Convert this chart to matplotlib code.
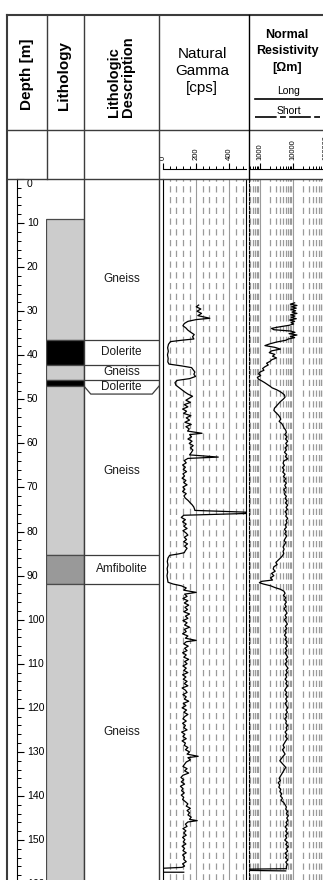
import matplotlib
matplotlib.use("Agg")
import matplotlib.pyplot as plt
import matplotlib.transforms as mtransforms
from matplotlib.ticker import MultipleLocator, LogLocator, NullFormatter, NullLocator

plt.rcParams["font.family"] = ["Liberation Sans", "DejaVu Sans"]

# ---- data -------------------------------------------------------------
depth_ticks = list(range(0, 170, 10))

lith_top = [9.1, 36.5, 42.2, 45.6, 47.0, 85.3, 91.9]
lith_bot = [36.5, 42.2, 45.6, 47.0, 85.3, 91.9, 165.0]
lith_color = ["#cccccc", "#000000", "#cccccc", "#000000", "#cccccc", "#999999", "#cccccc"]

desc_text = ["Gneiss", "Dolerite", "Gneiss", "Dolerite", "Gneiss", "Amfibolite", "Gneiss"]
desc_top = [9.1, 36.5, 42.2, 45.6, 47.0, 85.3, 91.9]
desc_bot = [36.5, 42.2, 45.6, 48.8, 85.3, 91.9, 159.1]
desc_lines = [36.5, 42.2, 45.6, 85.3, 91.9]

gr_depth = [
    28.6, 29.0, 29.5, 30.0, 30.5, 31.0, 31.6, 31.9, 32.3, 32.8,
    33.3, 33.8, 34.3, 34.8, 35.3, 35.8, 36.3, 36.6, 36.9, 37.5,
    38.3, 39.1, 39.9, 40.7, 41.5, 42.0, 42.4, 42.8, 43.3, 43.8,
    44.3, 44.8, 45.3, 45.7, 46.2, 46.8, 47.3, 47.8, 48.3, 48.8,
    49.3, 49.7, 50.2, 50.7, 51.2, 51.7, 52.2, 52.7, 53.2, 53.7,
    54.2, 54.7, 55.2, 55.7, 56.2, 56.7, 57.2, 57.7, 58.0, 58.5,
    59.0, 59.5, 60.0, 60.5, 61.0, 61.5, 62.0, 62.6, 63.1, 63.4,
    63.9, 64.4, 64.9, 65.4, 65.9, 66.4, 66.9, 67.4, 67.9, 68.4,
    68.9, 69.4, 69.9, 70.4, 70.9, 71.4, 71.9, 72.4, 72.9, 73.4,
    73.9, 74.4, 74.9, 75.2, 75.6, 75.9, 76.3, 76.8, 77.3, 77.8,
    78.3, 78.8, 79.3, 79.8, 80.3, 80.8, 81.3, 81.8, 82.3, 82.8,
    83.3, 83.8, 84.3, 84.8, 85.1, 85.4, 86.0, 86.8, 87.6, 88.4,
    89.2, 90.0, 90.8, 91.5, 91.9, 92.3, 92.8, 93.3, 93.8, 94.2,
    94.7, 95.2, 95.7, 96.2, 96.7, 97.2, 97.7, 98.2, 98.7, 99.2,
    99.7, 100.2, 100.7, 101.2, 101.7, 102.2, 102.7, 103.2, 103.7, 104.2,
    104.7, 105.0, 105.5, 106.0, 106.5, 107.0, 107.5, 108.0, 108.5, 109.0,
    109.5, 110.0, 110.5, 111.0, 111.5, 112.0, 112.5, 113.0, 113.5, 114.0,
    114.5, 115.0, 115.5, 116.0, 116.5, 117.0, 117.5, 118.0, 118.5, 119.0,
    119.5, 120.0, 120.5, 121.0, 121.5, 122.0, 122.5, 123.0, 123.5, 124.0,
    124.5, 125.0, 125.5, 126.0, 126.5, 127.0, 127.5, 128.0, 128.5, 129.0,
    129.5, 130.0, 130.5, 131.0, 131.3, 131.8, 132.3, 132.8, 133.3, 133.8,
    134.3, 134.8, 135.3, 135.8, 136.3, 136.8, 137.3, 137.8, 138.3, 138.8,
    139.3, 139.8, 140.3, 140.8, 141.3, 141.8, 142.3, 142.8, 143.3, 143.8,
    144.3, 144.8, 145.3, 145.6, 145.9, 146.4, 146.9, 147.4, 147.9, 148.4,
    148.9, 149.4, 149.9, 150.4, 150.9, 151.4, 151.9, 152.4, 152.9, 153.4,
    153.9, 154.4, 154.9, 155.4, 155.9, 156.2, 156.4, 157.3, 157.3,
]
gr_cps = [
    215, 200, 228, 205, 232, 210, 282, 200, 150, 128,
    120, 138, 150, 168, 188, 178, 186, 110, 45, 33,
    28, 32, 27, 31, 29, 36, 110, 172, 182, 192,
    186, 196, 160, 85, 72, 78, 95, 112, 130, 150,
    178, 160, 138, 165, 128, 150, 118, 142, 125, 168,
    140, 160, 132, 170, 138, 158, 148, 235, 160, 172,
    150, 175, 158, 182, 165, 180, 172, 160, 333, 150,
    128, 140, 118, 135, 122, 142, 120, 130, 115, 138,
    125, 145, 120, 132, 118, 140, 126, 134, 150, 162,
    175, 185, 190, 192, 500, 500, 125, 110, 135, 118,
    140, 125, 145, 120, 138, 150, 128, 142, 125, 148,
    130, 145, 135, 128, 90, 40, 30, 26, 30, 25,
    28, 24, 27, 30, 60, 110, 140, 125, 200, 130,
    145, 120, 150, 128, 155, 132, 148, 125, 160, 135,
    150, 120, 145, 130, 160, 128, 140, 118, 150, 135,
    200, 140, 125, 152, 130, 145, 118, 140, 125, 155,
    130, 145, 120, 140, 125, 150, 118, 138, 122, 145,
    128, 150, 115, 135, 145, 120, 140, 128, 155, 122,
    138, 115, 142, 125, 150, 130, 120, 140, 118, 135,
    125, 145, 112, 132, 120, 140, 115, 135, 128, 150,
    135, 160, 145, 212, 150, 165, 140, 130, 120, 145,
    130, 155, 120, 108, 125, 110, 130, 105, 120, 112,
    128, 110, 125, 118, 135, 150, 140, 165, 145, 160,
    150, 170, 160, 206, 150, 135, 145, 120, 138, 125,
    140, 118, 132, 122, 138, 115, 130, 120, 140, 118,
    130, 125, 140, 118, 130, 115, 0, 0, 125,
]

res_depth = [
    28.1, 28.4, 28.7, 29.0, 29.3, 29.6, 29.9, 30.2, 30.5, 30.8,
    31.1, 31.4, 31.7, 32.0, 32.3, 32.6, 32.9, 33.2, 33.6, 33.9,
    34.2, 34.5, 34.8, 35.1, 35.4, 35.7, 36.0, 36.3, 36.6, 37.0,
    37.4, 37.8, 38.2, 38.6, 39.0, 39.4, 39.8, 40.2, 40.6, 41.0,
    41.4, 41.8, 42.2, 42.6, 43.0, 43.4, 43.8, 44.2, 44.6, 45.0,
    45.4, 45.8, 46.2, 46.6, 47.0, 47.4, 47.8, 48.2, 48.6, 49.0,
    49.5, 50.0, 50.5, 51.0, 51.5, 52.0, 52.5, 53.0, 53.5, 54.0,
    54.5, 55.0, 55.5, 56.0, 56.5, 57.0, 57.5, 58.0, 58.5, 59.0,
    59.5, 60.0, 60.5, 61.0, 61.5, 62.0, 62.5, 63.0, 63.5, 64.0,
    64.5, 65.0, 65.5, 66.0, 66.5, 67.0, 67.5, 68.0, 68.5, 69.0,
    69.5, 70.0, 70.5, 71.0, 71.5, 72.0, 72.5, 73.0, 73.5, 74.0,
    74.5, 75.0, 75.5, 76.0, 76.5, 77.0, 77.5, 78.0, 78.5, 79.0,
    79.5, 80.0, 80.5, 81.0, 81.5, 82.0, 82.5, 83.0, 83.5, 84.0,
    84.5, 85.0, 85.5, 86.0, 86.5, 87.0, 87.5, 88.0, 88.5, 89.0,
    89.5, 90.0, 90.5, 91.0, 91.3, 91.6, 91.9, 92.3, 92.7, 93.1,
    93.5, 94.0, 94.5, 95.0, 95.5, 96.0, 96.5, 97.0, 97.5, 98.0,
    98.5, 99.0, 99.5, 100.0, 100.5, 101.0, 101.5, 102.0, 102.5, 103.0,
    103.5, 104.0, 104.5, 105.0, 105.5, 106.0, 106.5, 107.0, 107.5, 108.0,
    108.5, 109.0, 109.5, 110.0, 110.5, 111.0, 111.5, 112.0, 112.5, 113.0,
    113.5, 114.0, 114.5, 115.0, 115.5, 116.0, 116.5, 117.0, 117.5, 118.0,
    118.5, 119.0, 119.5, 120.0, 120.5, 121.0, 121.5, 122.0, 122.5, 123.0,
    123.5, 124.0, 124.5, 125.0, 125.5, 126.0, 126.5, 127.0, 127.5, 128.0,
    128.5, 129.0, 129.5, 130.0, 130.5, 131.0, 131.5, 132.0, 132.5, 133.0,
    133.5, 134.0, 134.5, 135.0, 135.5, 136.0, 136.5, 137.0, 137.5, 138.0,
    138.5, 139.0, 139.5, 140.0, 140.5, 141.0, 141.5, 142.0, 142.5, 143.0,
    143.5, 144.0, 144.5, 145.0, 145.5, 146.0, 146.5, 147.0, 147.5, 148.0,
    148.5, 149.0, 149.5, 150.0, 150.5, 151.0, 151.5, 152.0, 152.5, 153.0,
    153.5, 154.0, 154.5, 155.0, 155.5, 156.0, 156.5, 156.6, 156.9, 157.0,
]
res_log = [
    4.05, 3.92, 4.12, 3.96, 4.10, 3.94, 4.08, 3.97, 4.12, 3.93,
    4.06, 3.95, 4.10, 3.90, 4.05, 3.94, 4.02, 3.88, 3.55, 3.35,
    3.42, 3.93, 4.06, 3.88, 4.12, 3.92, 4.05, 3.86, 3.78, 3.50,
    3.30, 3.15, 3.45, 3.62, 3.35, 3.28, 3.45, 3.38, 3.50, 3.36,
    3.30, 3.20, 3.25, 3.15, 3.08, 3.12, 3.00, 2.96, 3.02, 2.92,
    2.95, 3.05, 3.14, 3.22, 3.30, 3.37, 3.50, 3.60, 3.68, 3.74,
    3.76, 3.70, 3.62, 3.56, 3.50, 3.44, 3.42, 3.48, 3.55, 3.60,
    3.63, 3.58, 3.66, 3.70, 3.73, 3.78, 3.80, 3.75, 3.82, 3.77,
    3.84, 3.78, 3.83, 3.76, 3.80, 3.74, 3.81, 3.77, 3.84, 3.72,
    3.70, 3.74, 3.68, 3.73, 3.69, 3.76, 3.71, 3.78, 3.73, 3.80,
    3.75, 3.79, 3.72, 3.77, 3.74, 3.80, 3.76, 3.82, 3.77, 3.84,
    3.79, 3.83, 3.76, 3.81, 3.78, 3.84, 3.79, 3.82, 3.76, 3.80,
    3.74, 3.79, 3.75, 3.81, 3.77, 3.73, 3.78, 3.74, 3.70, 3.73,
    3.70, 3.72, 3.68, 3.62, 3.55, 3.48, 3.52, 3.42, 3.40, 3.46,
    3.35, 3.42, 3.32, 3.38, 3.05, 2.98, 3.10, 3.32, 3.45, 3.62,
    3.72, 3.76, 3.71, 3.78, 3.74, 3.80, 3.75, 3.79, 3.73, 3.78,
    3.82, 3.76, 3.80, 3.74, 3.79, 3.83, 3.77, 3.81, 3.75, 3.79,
    3.74, 3.80, 3.76, 3.82, 3.78, 3.83, 3.77, 3.81, 3.76, 3.80,
    3.84, 3.78, 3.82, 3.76, 3.80, 3.85, 3.79, 3.83, 3.77, 3.81,
    3.76, 3.82, 3.78, 3.84, 3.79, 3.75, 3.81, 3.77, 3.83, 3.78,
    3.82, 3.76, 3.80, 3.84, 3.79, 3.83, 3.77, 3.81, 3.75, 3.80,
    3.78, 3.84, 3.79, 3.82, 3.76, 3.81, 3.77, 3.83, 3.78, 3.74,
    3.70, 3.74, 3.68, 3.72, 3.76, 3.70, 3.65, 3.60, 3.66, 3.72,
    3.78, 3.74, 3.70, 3.66, 3.62, 3.58, 3.62, 3.55, 3.60, 3.57,
    3.63, 3.60, 3.66, 3.62, 3.68, 3.64, 3.72, 3.76, 3.80, 3.78,
    3.84, 3.80, 3.86, 3.81, 3.85, 3.79, 3.83, 3.76, 3.82, 3.78,
    3.84, 3.77, 3.81, 3.75, 3.83, 3.78, 3.86, 3.79, 3.84, 3.76,
    3.82, 3.77, 3.85, 3.78, 3.83, 3.80, 3.80, 2.67, 2.67, 3.78,
]
res_ohm = [10 ** v for v in res_log]

gr_major = [0, 200, 400]
res_major = [1000, 10000, 100000]

# ---- layout helpers ---------------------------------------------------
W, H = 323, 880
DEPTH_MAX = (880 - 179) / 4.407
FRAME = "#3c3c3c"
GRID = "#9a9a9a"
DASH = (0, (5.0, 3.6))

fig = plt.figure(figsize=(W / 100, H / 100), dpi=100)


def box(x0, y0, x1, y1):
    return fig.add_axes([x0 / W, 1 - y1 / H, (x1 - x0) / W, (y1 - y0) / H])


def track(ax):
    ax.set_ylim(DEPTH_MAX, 0)
    ax.set_facecolor("none")
    ax.tick_params(length=0, labelleft=False, labelbottom=False)
    for s in ax.spines.values():
        s.set_visible(False)


# depth track
ax_d = box(17, 179, 47, 880)
track(ax_d)
ax_d.spines["left"].set_visible(True)
ax_d.spines["left"].set_linewidth(0.8)
ax_d.set_xticks([])
ax_d.yaxis.set_major_locator(MultipleLocator(10))
ax_d.yaxis.set_minor_locator(MultipleLocator(2))
ax_d.tick_params(axis="y", which="major", direction="in", length=5, width=0.8)
ax_d.tick_params(axis="y", which="minor", direction="in", length=3, width=0.7)
trans_d = mtransforms.blended_transform_factory(ax_d.transAxes, ax_d.transData)
for d in depth_ticks:
    ax_d.text(0.33, d, str(d), transform=trans_d, fontsize=7.5,
              va="top" if d == 0 else "center", ha="left", clip_on=False)

# lithology track
ax_l = box(46, 179, 84, 880)
track(ax_l)
ax_l.set_xlim(0, 1)
for t, b, c in zip(lith_top, lith_bot, lith_color):
    ax_l.axhspan(t, b, 0, 1, facecolor=c, edgecolor="#4a4a4a", linewidth=0.9)

# description track
ax_t = box(84, 179, 159, 880)
track(ax_t)
ax_t.set_xlim(0, 1)
ax_t.hlines(desc_lines, 0, 1, color=FRAME, linewidth=0.9)
ax_t.plot([0, 0.09, 0.91, 1], [47.0, 48.8, 48.8, 47.0], color=FRAME, linewidth=0.9)
for name, t, b in zip(desc_text, desc_top, desc_bot):
    ax_t.text(0.5, (t + b) / 2, name, ha="center", va="center", fontsize=8.5,
              color="#1a1a1a")

# gamma track
ax_g = box(163, 179, 246, 880)
track(ax_g)
ax_g.set_xlim(0, 500)
ax_g.xaxis.set_major_locator(MultipleLocator(200))
ax_g.xaxis.set_minor_locator(MultipleLocator(40))
ax_g.grid(which="major", axis="x", color=GRID, linewidth=0.8)
ax_g.grid(which="minor", axis="x", color=GRID, linewidth=0.9, linestyle=DASH)
ax_g.set_axisbelow(True)
for side in ["left", "right"]:
    ax_g.spines[side].set_visible(True)
    ax_g.spines[side].set_linewidth(0.8)
ax_g.plot(gr_cps, gr_depth, color="black", linewidth=0.9)

# resistivity track
ax_r = box(249, 179, 323, 880)
track(ax_r)
ax_r.set_xscale("log")
ax_r.set_xlim(10 ** 2.667, 10 ** (2.667 + 74 / 33))
ax_r.xaxis.set_major_locator(LogLocator(base=10, numticks=10))
ax_r.xaxis.set_minor_locator(LogLocator(base=10, subs=range(2, 10), numticks=20))
ax_r.xaxis.set_minor_formatter(NullFormatter())
ax_r.grid(which="major", axis="x", color=GRID, linewidth=0.8)
ax_r.grid(which="minor", axis="x", color=GRID, linewidth=0.9, linestyle=DASH)
ax_r.set_axisbelow(True)
ax_r.spines["left"].set_visible(True)
ax_r.spines["left"].set_linestyle((0, (2.5, 1.5)))
ax_r.spines["left"].set_linewidth(0.8)
ax_r.plot(res_ohm, res_depth, color="black", linewidth=0.9)

# scale row
ax_gs = box(163, 140, 246, 169)
ax_gs.set_xlim(0, 500)
ax_gs.set_facecolor("none")
for s in ["left", "right", "top"]:
    ax_gs.spines[s].set_visible(False)
ax_gs.spines["bottom"].set_linewidth(0.8)
ax_gs.set_yticks([])
ax_gs.xaxis.set_major_locator(MultipleLocator(200))
ax_gs.xaxis.set_minor_locator(MultipleLocator(40))
ax_gs.tick_params(axis="x", which="major", direction="in", length=4, width=0.8, labelbottom=False)
ax_gs.tick_params(axis="x", which="minor", direction="in", length=2, width=0.7)
tr_gs = mtransforms.blended_transform_factory(ax_gs.transData, ax_gs.transAxes)
for v in gr_major:
    ax_gs.text(v, 0.31, str(v), transform=tr_gs, rotation=90, ha="center",
               va="bottom", fontsize=5.5)

ax_rs = box(249, 140, 323, 169)
ax_rs.set_xscale("log")
ax_rs.set_xlim(10 ** 2.667, 10 ** (2.667 + 74 / 33))
ax_rs.set_facecolor("none")
for s in ["left", "right", "top"]:
    ax_rs.spines[s].set_visible(False)
ax_rs.spines["bottom"].set_linewidth(0.8)
ax_rs.set_yticks([])
ax_rs.yaxis.set_minor_locator(NullLocator())
ax_rs.xaxis.set_major_locator(LogLocator(base=10, numticks=10))
ax_rs.xaxis.set_minor_locator(LogLocator(base=10, subs=range(2, 10), numticks=20))
ax_rs.tick_params(axis="x", which="major", direction="in", length=4, width=0.8, labelbottom=False)
ax_rs.tick_params(axis="x", which="minor", direction="in", length=2, width=0.7, labelbottom=False)
tr_rs = mtransforms.blended_transform_factory(ax_rs.transData, ax_rs.transAxes)
for v in res_major:
    ax_rs.text(v, 0.31, str(v), transform=tr_rs, rotation=90, ha="center",
               va="bottom", fontsize=5.5, clip_on=False)

# frame and column borders (pixel coordinates)
ax_o = fig.add_axes([0, 0, 1, 1], facecolor="none")
ax_o.set_xlim(0, W)
ax_o.set_ylim(H, 0)
ax_o.axis("off")
ax_o.plot([7, 7], [15, 880], color=FRAME, linewidth=1.5)
ax_o.plot([7, 323], [15, 15], color=FRAME, linewidth=1.5)
ax_o.plot([7, 323], [130.5, 130.5], color=FRAME, linewidth=1.0)
ax_o.plot([7, 323], [179, 179], color=FRAME, linewidth=1.0)
ax_o.plot([46.5, 46.5], [15, 179], color=FRAME, linewidth=1.0)
ax_o.plot([84, 84], [15, 880], color=FRAME, linewidth=1.0)
ax_o.plot([158.5, 158.5], [15, 880], color=FRAME, linewidth=1.0)
ax_o.plot([249, 249], [15, 179], color="black", linewidth=1.0)
ax_o.plot([255, 323], [99, 99], color="black", linewidth=1.2)
ax_o.plot([255, 323], [117, 117], color="black", linewidth=1.2, linestyle=(0, (13, 2, 3.5, 2)))

# header text
def htext(x, y, s, **kw):
    fig.text(x / W, 1 - y / H, s, ha="center", va="center", **kw)


htext(27, 74, "Depth [m]", rotation=90, fontsize=11, fontweight="bold")
htext(64, 75, "Lithology", rotation=90, fontsize=11, fontweight="bold")
htext(121, 77, "Lithologic\nDescription", rotation=90, fontsize=10.5,
      fontweight="bold", multialignment="left", linespacing=1.05)
htext(202, 71, "Natural\nGamma\n[cps]", fontsize=11, linespacing=1.25)
htext(287, 51, "Normal\nResistivity\n[Ωm]", fontsize=9, fontweight="bold", linespacing=1.5)
htext(289, 91, "Long", fontsize=7.5)
htext(289, 111, "Short", fontsize=7.5)

fig.savefig("out.png", dpi=100)
